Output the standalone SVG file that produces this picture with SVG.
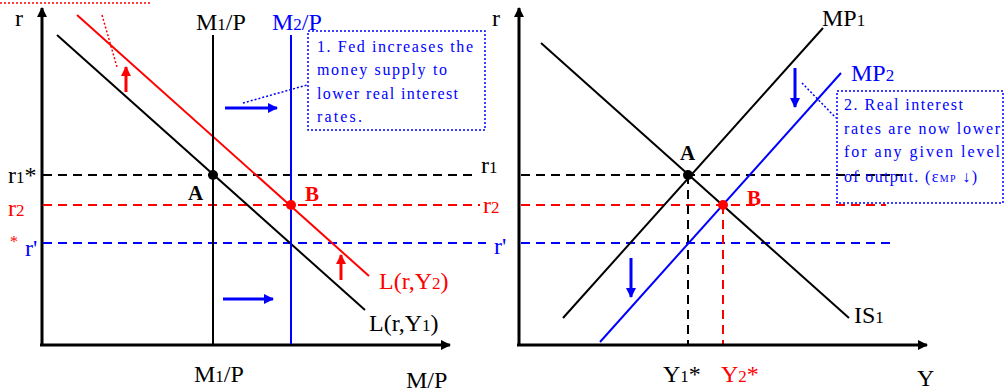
<svg xmlns="http://www.w3.org/2000/svg" width="1005" height="391" viewBox="0 0 1005 391">
<defs>
<marker id="ah" viewBox="0 0 10 10" refX="9" refY="5" markerWidth="10" markerHeight="10" markerUnits="userSpaceOnUse" orient="auto"><path d="M0,0 L10,5 L0,10 Z" fill="#000"/></marker>
<marker id="ahb" viewBox="0 0 10 10" refX="9" refY="5" markerWidth="10" markerHeight="10" markerUnits="userSpaceOnUse" orient="auto"><path d="M0,0 L10,5 L0,10 Z" fill="#0000ff"/></marker>
<marker id="ahr" viewBox="0 0 10 10" refX="9" refY="5" markerWidth="10" markerHeight="10" markerUnits="userSpaceOnUse" orient="auto"><path d="M0,0 L10,5 L0,10 Z" fill="#ff0000"/></marker>
</defs>
<style>
text{font-family:"Liberation Serif","Times New Roman",serif;font-size:24px;fill:#000}
.red{fill:#ff0000}
.blue{fill:#0000ff}
.bold{font-weight:bold;font-size:21px}
.sub{font-size:17px}
.note{font-size:16px;fill:#0000ff}
.nsub{font-size:10px}
.axis{stroke:#000;stroke-width:3;fill:none}
.crv{stroke-width:2;fill:none}
.dash{stroke-width:2;stroke-dasharray:9,6;fill:none}
.dot{stroke-width:1.5;stroke-dasharray:2,2;fill:none}
</style>
<rect width="1005" height="391" fill="#fff"/>

<g id="left-axes">
<line class="axis" x1="42" y1="346" x2="42" y2="8" marker-end="url(#ah)"/>
<line class="axis" x1="40" y1="345" x2="450" y2="345" marker-end="url(#ah)"/>
<text x="15" y="26">r</text>
<text x="406" y="388">M/P</text>
</g>

<g id="connectors">
<line class="dash" stroke="#000" x1="43" y1="175" x2="474" y2="175"/>
<line class="dash" stroke="#ff0000" x1="43" y1="205" x2="480" y2="205"/>
<line class="dash" stroke="#0000ff" x1="43" y1="243" x2="486" y2="243"/>
<line class="dash" stroke="#000" x1="521" y1="175" x2="903" y2="175"/>
<line class="dash" stroke="#ff0000" x1="521" y1="205" x2="886" y2="205"/>
<line class="dash" stroke="#0000ff" x1="521" y1="243" x2="890" y2="243"/>
<line class="dash" stroke="#000" x1="688" y1="175" x2="688" y2="344"/>
<line class="dash" stroke="#ff0000" x1="723" y1="205" x2="723" y2="344"/>
<line x1="126" y1="92" x2="126" y2="67" stroke="#ff0000" stroke-width="3" marker-end="url(#ahr)"/>
<line x1="341" y1="280" x2="341" y2="255" stroke="#ff0000" stroke-width="3" marker-end="url(#ahr)"/>
<line x1="225" y1="108" x2="277" y2="108" stroke="#0000ff" stroke-width="3" marker-end="url(#ahb)"/>
<line x1="223" y1="299" x2="273" y2="299" stroke="#0000ff" stroke-width="3" marker-end="url(#ahb)"/>
<line x1="795" y1="68" x2="795" y2="107" stroke="#0000ff" stroke-width="3" marker-end="url(#ahb)"/>
<line x1="631" y1="258" x2="631" y2="297" stroke="#0000ff" stroke-width="3" marker-end="url(#ahb)"/>
<line class="dot" stroke="#ff0000" x1="0" y1="3" x2="150" y2="3"/>
<line class="dot" stroke="#ff0000" x1="102" y1="15" x2="117" y2="67"/>
<line class="dot" stroke="#0000ff" x1="243" y1="103" x2="307" y2="85"/>
<line class="dot" stroke="#0000ff" x1="802" y1="83" x2="836" y2="118"/>
</g>

<g id="L1">
<line class="crv" stroke="#000" x1="57" y1="35" x2="365" y2="310"/>
<text x="369" y="331">L(r,Y<tspan class="sub">1</tspan>)</text>
</g>
<g id="L2">
<line class="crv" stroke="#ff0000" x1="77" y1="15" x2="369" y2="276"/>
<text class="red" x="379" y="289">L(r,Y<tspan class="sub">2</tspan>)</text>
</g>
<g id="M1P">
<line class="crv" stroke="#000" x1="213" y1="35" x2="213" y2="344"/>
<text x="196" y="30">M<tspan class="sub">1</tspan>/P</text>
<text x="194" y="382">M<tspan class="sub">1</tspan>/P</text>
</g>
<g id="M2P">
<line class="crv" stroke="#0000ff" x1="291" y1="35" x2="291" y2="344"/>
<text class="blue" x="272" y="30">M<tspan class="sub">2</tspan>/P</text>
</g>
<g id="left-labels">
<text x="8" y="183">r<tspan class="sub">1</tspan>*</text>
<text class="red" x="8" y="216">r<tspan class="sub">2</tspan></text>
<text class="red" x="10" y="247" style="font-size:16px">*</text>
<text class="blue" x="25" y="256">r'</text>
<text x="481" y="173">r<tspan class="sub">1</tspan></text>
<text class="red" x="483" y="213">r<tspan class="sub">2</tspan></text>
<text class="blue" x="494" y="254">r'</text>
</g>
<g id="pointA-left">
<circle cx="213" cy="175" r="5" fill="#000"/>
<text class="bold" x="188" y="200">A</text>
</g>
<g id="pointB-left">
<circle cx="291" cy="205" r="5" fill="#ff0000"/>
<text class="bold red" x="305" y="201">B</text>
</g>
<g id="note1">
<rect class="dot" stroke="#0000ff" x="308" y="31" width="177" height="99"/>
<text class="note" x="317" y="52" textLength="156" lengthAdjust="spacing">1. Fed increases the</text>
<text class="note" x="317" y="75" textLength="130" lengthAdjust="spacing">money supply to</text>
<text class="note" x="317" y="99" textLength="141" lengthAdjust="spacing">lower real interest</text>
<text class="note" x="317" y="122" textLength="45" lengthAdjust="spacing">rates.</text>
</g>

<g id="right-axes">
<line class="axis" x1="519" y1="346" x2="519" y2="8" marker-end="url(#ah)"/>
<line class="axis" x1="517" y1="345" x2="927" y2="345" marker-end="url(#ah)"/>
<text x="492" y="26">r</text>
<text x="917" y="386">Y</text>
<text x="663" y="382">Y<tspan class="sub">1</tspan>*</text>
<text class="red" x="721" y="382">Y<tspan class="sub">2</tspan>*</text>
</g>
<g id="IS1">
<line class="crv" stroke="#000" x1="541" y1="43" x2="849" y2="318"/>
<text x="854" y="323">IS<tspan class="sub">1</tspan></text>
</g>
<g id="MP1">
<line class="crv" stroke="#000" x1="823" y1="28" x2="563" y2="318"/>
<text x="822" y="26">MP<tspan class="sub">1</tspan></text>
</g>
<g id="MP2">
<line class="crv" stroke="#0000ff" x1="841" y1="73" x2="600" y2="342"/>
<text class="blue" x="851" y="81">MP<tspan class="sub">2</tspan></text>
</g>
<g id="pointA-right">
<circle cx="688" cy="175" r="5" fill="#000"/>
<text class="bold" x="680" y="160">A</text>
</g>
<g id="pointB-right">
<circle cx="723" cy="205" r="5" fill="#ff0000"/>
<text class="bold red" x="747" y="205">B</text>
</g>
<g id="note2">
<rect class="dot" stroke="#0000ff" x="837" y="91" width="166" height="112"/>
<text class="note" x="844" y="110" textLength="119" lengthAdjust="spacing">2. Real interest</text>
<text class="note" x="844" y="134" textLength="156" lengthAdjust="spacing">rates are now lower</text>
<text class="note" x="844" y="157" textLength="156" lengthAdjust="spacing">for any given level</text>
<text class="note" x="844" y="182" textLength="133" lengthAdjust="spacing">of output. (ε<tspan class="nsub">MP</tspan> ↓)</text>
</g>
</svg>
